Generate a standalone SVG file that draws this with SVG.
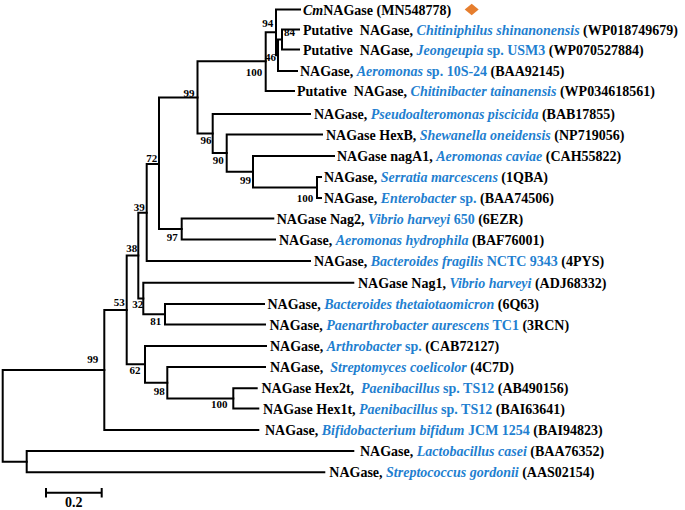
<svg xmlns="http://www.w3.org/2000/svg" width="685" height="510" viewBox="0 0 685 510">
<style>
.br{fill:none;stroke:#000;stroke-width:2;stroke-linecap:square;stroke-linejoin:miter}
.t{font-family:"Liberation Serif","Times New Roman",serif;font-weight:bold;font-size:14px;fill:#000}
.i{font-style:italic;fill:#1f7fd0}
.u{fill:#1f7fd0}
.bs{font-family:"Liberation Serif","Times New Roman",serif;font-weight:bold;font-size:11px;fill:#000;text-anchor:middle}
</style>
<rect width="685" height="510" fill="#fff"/>
<g id="connectors">
<path class="br" d="M104.3 370 H2.7 V461.65 H26.7"/>
<path class="br" d="M353.3 451 H26.7 V472.3 H324.3"/>
<path class="br" d="M126.7 310 H104.3 V430 H258.3"/>
<path class="br" d="M138.3 255.6 H126.7 V364.35 H145"/>
<path class="br" d="M146.7 212.7 H138.3 V298.5 H143.3"/>
<path class="br" d="M159 164 H146.7 V261 H310"/>
<path class="br" d="M197.5 97.6 H159 V229 H181.7"/>
<path class="br" d="M273.3 218.5 H181.7 V239.5 H275"/>
<path class="br" d="M265.7 61.3 H197.5 V133.5 H212.7"/>
<path class="br" d="M276 32.25 H265.7 V91 H294"/>
<path class="br" d="M300 9.5 H276 V55.25 H278"/>
<path class="br" d="M282 39.5 H278 V71 H297"/>
<path class="br" d="M299 29.5 H282 V49.5 H299"/>
<path class="br" d="M310 114 H212.7 V153 H226.7"/>
<path class="br" d="M322 134.5 H226.7 V171.75 H253"/>
<path class="br" d="M334 156 H253 V187.5 H317"/>
<path class="br" d="M321 177 H317 V198 H321"/>
<path class="br" d="M353.3 282.7 H143.3 V314.25 H165"/>
<path class="br" d="M264 304 H165 V324.5 H265"/>
<path class="br" d="M266 346 H145 V382.7 H167.3"/>
<path class="br" d="M265 367 H167.3 V398.4 H233.3"/>
<path class="br" d="M256.7 388.3 H233.3 V408.5 H258.3"/>
</g>
<g id="bootstrap">
<text class="bs" x="267.7" y="27">94</text>
<text class="bs" x="289.5" y="35.7">84</text>
<text class="bs" x="270.5" y="61">46</text>
<text class="bs" x="254" y="75.5">100</text>
<text class="bs" x="189" y="96.5">99</text>
<text class="bs" x="206" y="144">96</text>
<text class="bs" x="218.3" y="164">90</text>
<text class="bs" x="245.5" y="184">99</text>
<text class="bs" x="305" y="202">100</text>
<text class="bs" x="151.7" y="162.3">72</text>
<text class="bs" x="172.3" y="240.7">97</text>
<text class="bs" x="139.3" y="210.7">39</text>
<text class="bs" x="131.7" y="252.3">38</text>
<text class="bs" x="119.3" y="305.7">53</text>
<text class="bs" x="137.7" y="308">32</text>
<text class="bs" x="155.7" y="325">81</text>
<text class="bs" x="135" y="374">62</text>
<text class="bs" x="159.3" y="395">98</text>
<text class="bs" x="219.3" y="408.3">100</text>
<text class="bs" x="92.7" y="363">99</text>
</g>
<g id="n1"><text class="t" x="303" y="14.5"><tspan font-style="italic">Cm</tspan>NAGase (MN548778)</text><path d="M464.7 9.5 L471.7 3.8 L478.7 9.5 L471.7 15.2 Z" fill="#e67e2e"/></g>
<g id="n2"><text class="t" x="303" y="34.5">Putative&#160; NAGase, <tspan class="i">Chitiniphilus shinanonensis</tspan> (WP018749679)</text></g>
<g id="n3"><text class="t" x="303" y="54.5">Putative&#160; NAGase, <tspan class="i">Jeongeupia</tspan><tspan class="u"> sp. USM3</tspan> (WP070527884)</text></g>
<g id="n4"><text class="t" x="300" y="76">NAGase, <tspan class="i">Aeromonas</tspan><tspan class="u"> sp. 10S-24</tspan> (BAA92145)</text></g>
<g id="n5"><text class="t" x="297" y="96">Putative&#160; NAGase, <tspan class="i">Chitinibacter tainanensis</tspan> (WP034618561)</text></g>
<g id="n6"><text class="t" x="314" y="119">NAGase, <tspan class="i">Pseudoalteromonas piscicida</tspan> (BAB17855)</text></g>
<g id="n7"><text class="t" x="326" y="139.5">NAGase HexB, <tspan class="i">Shewanella oneidensis</tspan> (NP719056)</text></g>
<g id="n8"><text class="t" x="337" y="161">NAGase nagA1, <tspan class="i">Aeromonas caviae</tspan> (CAH55822)</text></g>
<g id="n9"><text class="t" x="324" y="182">NAGase, <tspan class="i">Serratia marcescens</tspan> (1QBA)</text></g>
<g id="n10"><text class="t" x="324" y="203">NAGase, <tspan class="i">Enterobacter</tspan><tspan class="u"> sp.</tspan> (BAA74506)</text></g>
<g id="n11"><text class="t" x="276.7" y="223.5">NAGase Nag2, <tspan class="i">Vibrio harveyi</tspan><tspan class="u"> 650</tspan> (6EZR)</text></g>
<g id="n12"><text class="t" x="279" y="244.5">NAGase, <tspan class="i">Aeromonas hydrophila</tspan> (BAF76001)</text></g>
<g id="n13"><text class="t" x="314" y="266">NAGase, <tspan class="i">Bacteroides fragilis</tspan><tspan class="u"> NCTC 9343</tspan> (4PYS)</text></g>
<g id="n14"><text class="t" x="358" y="287.7">NAGase Nag1, <tspan class="i">Vibrio harveyi</tspan> (ADJ68332)</text></g>
<g id="n15"><text class="t" x="267.5" y="309">NAGase, <tspan class="i">Bacteroides thetaiotaomicron</tspan> (6Q63)</text></g>
<g id="n16"><text class="t" x="269.5" y="329.5">NAGase, <tspan class="i">Paenarthrobacter aurescens</tspan><tspan class="u"> TC1</tspan> (3RCN)</text></g>
<g id="n17"><text class="t" x="270" y="351">NAGase, <tspan class="i">Arthrobacter</tspan><tspan class="u"> sp.</tspan> (CAB72127)</text></g>
<g id="n18"><text class="t" x="270" y="372">NAGase,&#160; <tspan class="i">Streptomyces coelicolor</tspan> (4C7D)</text></g>
<g id="n19"><text class="t" x="261.5" y="393.3">NAGase Hex2t,&#160; <tspan class="i">Paenibacillus</tspan><tspan class="u"> sp. TS12</tspan> (AB490156)</text></g>
<g id="n20"><text class="t" x="263" y="413.5">NAGase Hex1t, <tspan class="i">Paenibacillus</tspan><tspan class="u"> sp. TS12</tspan> (BAI63641)</text></g>
<g id="n21"><text class="t" x="265" y="435">NAGase, <tspan class="i">Bifidobacterium bifidum</tspan><tspan class="u"> JCM 1254</tspan> (BAI94823)</text></g>
<g id="n22"><text class="t" x="360" y="456">NAGase, <tspan class="i">Lactobacillus casei</tspan> (BAA76352)</text></g>
<g id="n23"><text class="t" x="329.3" y="477.3">NAGase, <tspan class="i">Streptococcus gordonii</tspan> (AAS02154)</text></g>
<g id="scale">
<path class="br" d="M46 489 V496.4 M46 492.7 H101.7 M101.7 489 V496.4"/>
<text class="t" x="73.8" y="506.5" text-anchor="middle" font-size="13">0.2</text>
</g>
</svg>
